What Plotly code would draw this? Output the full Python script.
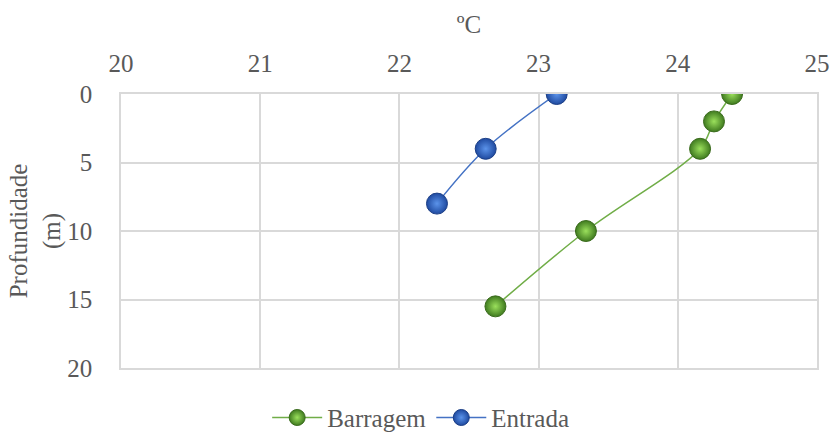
import plotly.graph_objects as go

# Temperature profiles (ºC) against depth (m)
barragem_temp = [24.39, 24.26, 24.16, 23.34, 22.69]
barragem_depth = [0, 2, 4, 10, 15.5]
entrada_temp = [23.13, 22.62, 22.27]
entrada_depth = [0, 4, 8]

x_ticks = [20, 21, 22, 23, 24, 25]
y_ticks = [0, 5, 10, 15, 20]

FONT = "Liberation Serif"
FS = 25
GREY = "#595959"
GRID = "#d9d9d9"

fig = go.Figure()

fig.add_trace(go.Scatter(
    x=barragem_temp, y=barragem_depth, name="Barragem",
    mode="lines+markers",
    line=dict(color="#70ad47", width=1.5, shape="spline"),
    marker=dict(size=21, color="#3f7a1f",
                gradient=dict(type="radial", color="#9be05c"),
                line=dict(color="#3a6b1c", width=1)),
))
fig.add_trace(go.Scatter(
    x=entrada_temp, y=entrada_depth, name="Entrada",
    mode="lines+markers",
    line=dict(color="#4472c4", width=1.5, shape="spline"),
    marker=dict(size=21, color="#1f4aa0",
                gradient=dict(type="radial", color="#5b93ea"),
                line=dict(color="#1c3f86", width=1)),
))

fig.update_layout(
    width=833, height=432,
    margin=dict(l=121, r=16, t=94, b=64),
    paper_bgcolor="white", plot_bgcolor="white",
    font=dict(family=FONT, size=FS, color=GREY),
    showlegend=True,
    legend=dict(orientation="h", xref="container", yref="container",
                x=0.505, xanchor="center", y=0.033, yanchor="middle",
                font=dict(family=FONT, size=FS, color=GREY),
                itemwidth=50, traceorder="normal"),
    xaxis=dict(side="top", range=[20, 25], tickvals=x_ticks,
               automargin=False,
               showgrid=True, gridcolor=GRID, gridwidth=1.5,
               showline=True, linecolor=GRID, linewidth=1.5, mirror=True,
               zeroline=False, ticks="", ticklen=0, ticklabelstandoff=10,
               tickfont=dict(family=FONT, size=FS, color=GREY),
               title=dict(text="ºC", standoff=10,
                          font=dict(family=FONT, size=FS, color=GREY))),
    yaxis=dict(range=[20, 0], tickvals=y_ticks,
               automargin=False,
               showgrid=True, gridcolor=GRID, gridwidth=1.5,
               showline=True, linecolor=GRID, linewidth=1.5, mirror=True,
               zeroline=False, ticks="", ticklen=0, ticklabelstandoff=22,
               tickfont=dict(family=FONT, size=FS, color=GREY),
               title=dict(text="Profundidade<br>(m)", standoff=0,
                          font=dict(family=FONT, size=FS, color=GREY))),
)

fig.write_html("out.html")
